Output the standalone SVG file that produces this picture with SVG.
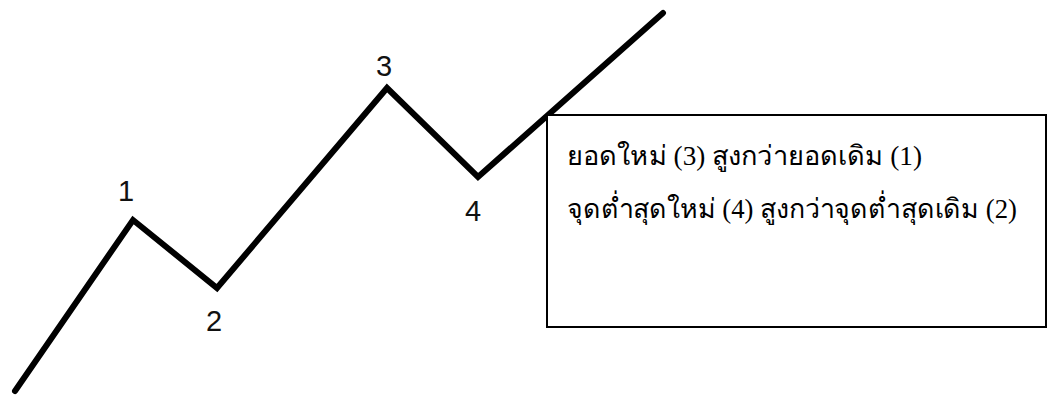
<svg xmlns="http://www.w3.org/2000/svg" width="1049" height="397" viewBox="0 0 1049 397">
<style>
.wave{fill:none;stroke:#000;stroke-width:6;stroke-linejoin:miter;stroke-linecap:round}
.num{font-family:"Liberation Sans",Arial,sans-serif;font-size:29px;fill:#111;text-anchor:middle}
.box{fill:#fff;stroke:#000;stroke-width:2}
.th{font-family:"Liberation Serif","DejaVu Serif",serif;font-size:27px;fill:#000}
</style>
<rect width="1049" height="397" fill="#fff"/>
<g id="connectors">
<polyline class="wave" points="15,391 133,220 217,288 387,88 478,177 663,13"/>
</g>
<g id="label-1"><text class="num" x="126" y="201">1</text></g>
<g id="label-2"><text class="num" x="214" y="331">2</text></g>
<g id="label-3"><text class="num" x="384" y="76">3</text></g>
<g id="label-4"><text class="num" x="473" y="221">4</text></g>
<g id="note">
<rect class="box" x="547" y="115" width="499" height="212"/>
<text class="th" x="567" y="165" textLength="355" lengthAdjust="spacingAndGlyphs">ยอดใหม่ (3) สูงกว่ายอดเดิม (1)</text>
<text class="th" x="567" y="218" textLength="450" lengthAdjust="spacingAndGlyphs">จุดต่ำสุดใหม่ (4) สูงกว่าจุดต่ำสุดเดิม (2)</text>
</g>
</svg>
